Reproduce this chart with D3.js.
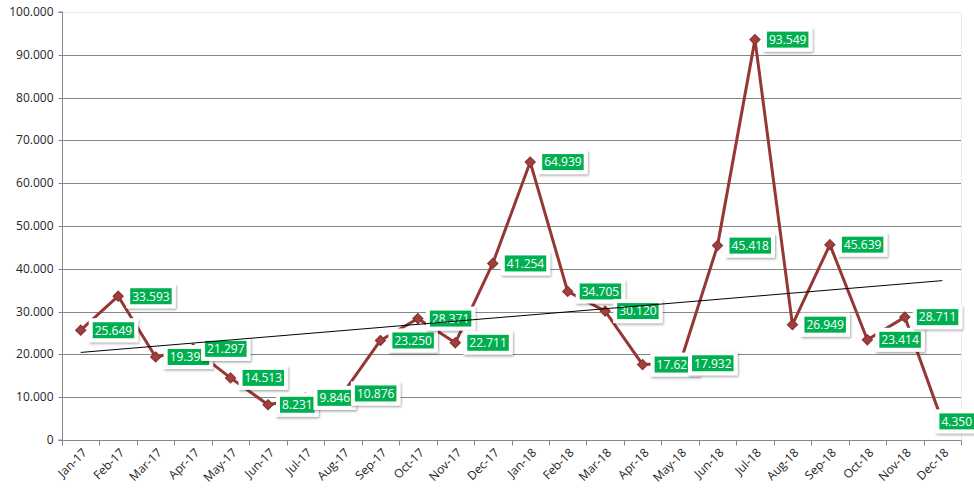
<!DOCTYPE html>
<html>
<head>
<meta charset="utf-8">
<script src="https://cdn.jsdelivr.net/npm/d3@7"></script>
<style>
  html, body { margin: 0; padding: 0; background: #fff; }
  svg { display: block; }
  text { font-family: "Open Sans", sans-serif; }
</style>
</head>
<body>
<svg id="chart" width="974" height="494"></svg>
<script>
// ---- data ----
const months = ["Jan-17","Feb-17","Mar-17","Apr-17","May-17","Jun-17","Jul-17","Aug-17","Sep-17","Oct-17","Nov-17","Dec-17",
                "Jan-18","Feb-18","Mar-18","Apr-18","May-18","Jun-18","Jul-18","Aug-18","Sep-18","Oct-18","Nov-18","Dec-18"];
const values = [25649, 33593, 19391, 21297, 14513, 8231, 9846, 10876, 23250, 28371, 22711, 41254,
                64939, 34705, 30120, 17626, 17932, 45418, 93549, 26949, 45639, 23414, 28711, 4350];
const yTicks = [0, 10000, 20000, 30000, 40000, 50000, 60000, 70000, 80000, 90000, 100000];

// ---- layout ----
const W = 974, H = 494;
const pL = 62, pR = 961, pT = 12, pB = 440;
const svg = d3.select("#chart");

const locale = d3.formatLocale({decimal: ",", thousands: ".", grouping: [3], currency: ["", ""]});
const fmt = locale.format(",d");

const x = d3.scaleBand().domain(months).range([pL, pR]).padding(0);
const y = d3.scaleLinear().domain([0, 100000]).range([pB, pT]);
const cx = d => x(d) + x.bandwidth() / 2;

// shadow filter
const defs = svg.append("defs");
const f = defs.append("filter").attr("id", "sh").attr("x", "-20%").attr("y", "-30%").attr("width", "150%").attr("height", "170%");
f.append("feDropShadow").attr("dx", 1).attr("dy", 1.5).attr("stdDeviation", 1.3)
  .attr("flood-color", "#000").attr("flood-opacity", 0.35);

// plot border (light)
svg.append("rect").attr("x", pL + 0.5).attr("y", pT + 0.5).attr("width", pR - pL).attr("height", pB - pT)
  .attr("fill", "none").attr("stroke", "#EEECE1").attr("stroke-width", 1);

// gridlines
svg.append("g").selectAll("line").data(yTicks.filter(t => t > 0 && t < 100000)).join("line")
  .attr("x1", pL).attr("x2", pR)
  .attr("y1", d => Math.round(y(d)) + 0.5).attr("y2", d => Math.round(y(d)) + 0.5)
  .attr("stroke", "#868686").attr("stroke-width", 1);

// y axis
const yAxis = svg.append("g").attr("transform", `translate(${pL + 0.5},0)`)
  .call(d3.axisLeft(y).tickValues(yTicks).tickSize(4).tickPadding(5).tickFormat(fmt));
yAxis.select(".domain").attr("stroke", "#868686").attr("d", `M-4,${pT}H0V${pB}H-4`);
yAxis.selectAll(".tick line").attr("stroke", "#868686");
yAxis.selectAll(".tick").attr("transform", d => `translate(0,${Math.round(y(d)) + 0.5})`);
yAxis.selectAll("text").attr("font-family", "Open Sans").attr("font-size", 12).attr("fill", "#262626");

// x axis
const xAxis = svg.append("g").attr("transform", `translate(0,${pB + 0.5})`);
xAxis.append("line").attr("x1", pL).attr("x2", pR).attr("stroke", "#868686");
xAxis.selectAll("line.tk").data(d3.range(months.length + 1)).join("line").attr("class", "tk")
  .attr("x1", i => Math.round(pL + i * x.bandwidth()) + 0.5)
  .attr("x2", i => Math.round(pL + i * x.bandwidth()) + 0.5)
  .attr("y1", 0).attr("y2", 5).attr("stroke", "#868686");
xAxis.selectAll("text").data(months).join("text")
  .attr("transform", d => `translate(${cx(d) + 4},${10}) rotate(-45)`)
  .attr("text-anchor", "end").attr("dy", "0.35em")
  .attr("font-size", 12).attr("fill", "#262626")
  .text(d => d);

// series line
const pts = months.map((m, i) => ({m, v: values[i]}));
svg.append("path").datum(pts)
  .attr("d", d3.line().x(d => cx(d.m)).y(d => y(d.v)))
  .attr("fill", "none").attr("stroke", "#953735").attr("stroke-width", 3).attr("stroke-linejoin", "round");

// markers
svg.append("g").selectAll("path").data(pts).join("path")
  .attr("transform", d => `translate(${cx(d.m)},${y(d.v)})`)
  .attr("d", "M0,-5L5,0L0,5L-5,0Z")
  .attr("fill", "#A0403D").attr("stroke", "#8B3330").attr("stroke-width", 1.2);

// data labels
const lg = svg.append("g");
pts.forEach(d => {
  const g = lg.append("g");
  const t = g.append("text").attr("font-size", 12).attr("fill", "#fff").text(fmt(d.v));
  const tw = t.node().getComputedTextLength();
  const gw = tw + 4, gh = 16;
  const bw = gw + 8, bh = gh + 8;
  let bx = cx(d.m) + 8;
  if (bx + bw > W + 4) bx = W + 4 - bw;
  const by = y(d.v) - bh / 2;
  g.insert("rect", "text").attr("x", bx).attr("y", by).attr("width", bw).attr("height", bh)
    .attr("fill", "#fff").attr("filter", "url(#sh)");
  g.insert("rect", "text").attr("x", bx + 4).attr("y", by + 4).attr("width", gw).attr("height", gh)
    .attr("fill", "#00B050");
  t.attr("x", bx + 6).attr("y", by + 4 + gh / 2).attr("dy", "0.36em");
});

// linear trend line (least squares on the series)
const n = values.length;
const xs = d3.range(1, n + 1);
const mx = d3.mean(xs), my = d3.mean(values);
const slope = d3.sum(xs, (xi, i) => (xi - mx) * (values[i] - my)) / d3.sum(xs, xi => (xi - mx) ** 2);
const icpt = my - slope * mx;
svg.append("line")
  .attr("x1", cx(months[0])).attr("y1", y(icpt + slope * 1))
  .attr("x2", cx(months[n - 1])).attr("y2", y(icpt + slope * n))
  .attr("stroke", "#000").attr("stroke-width", 1);
</script>
</body>
</html>
